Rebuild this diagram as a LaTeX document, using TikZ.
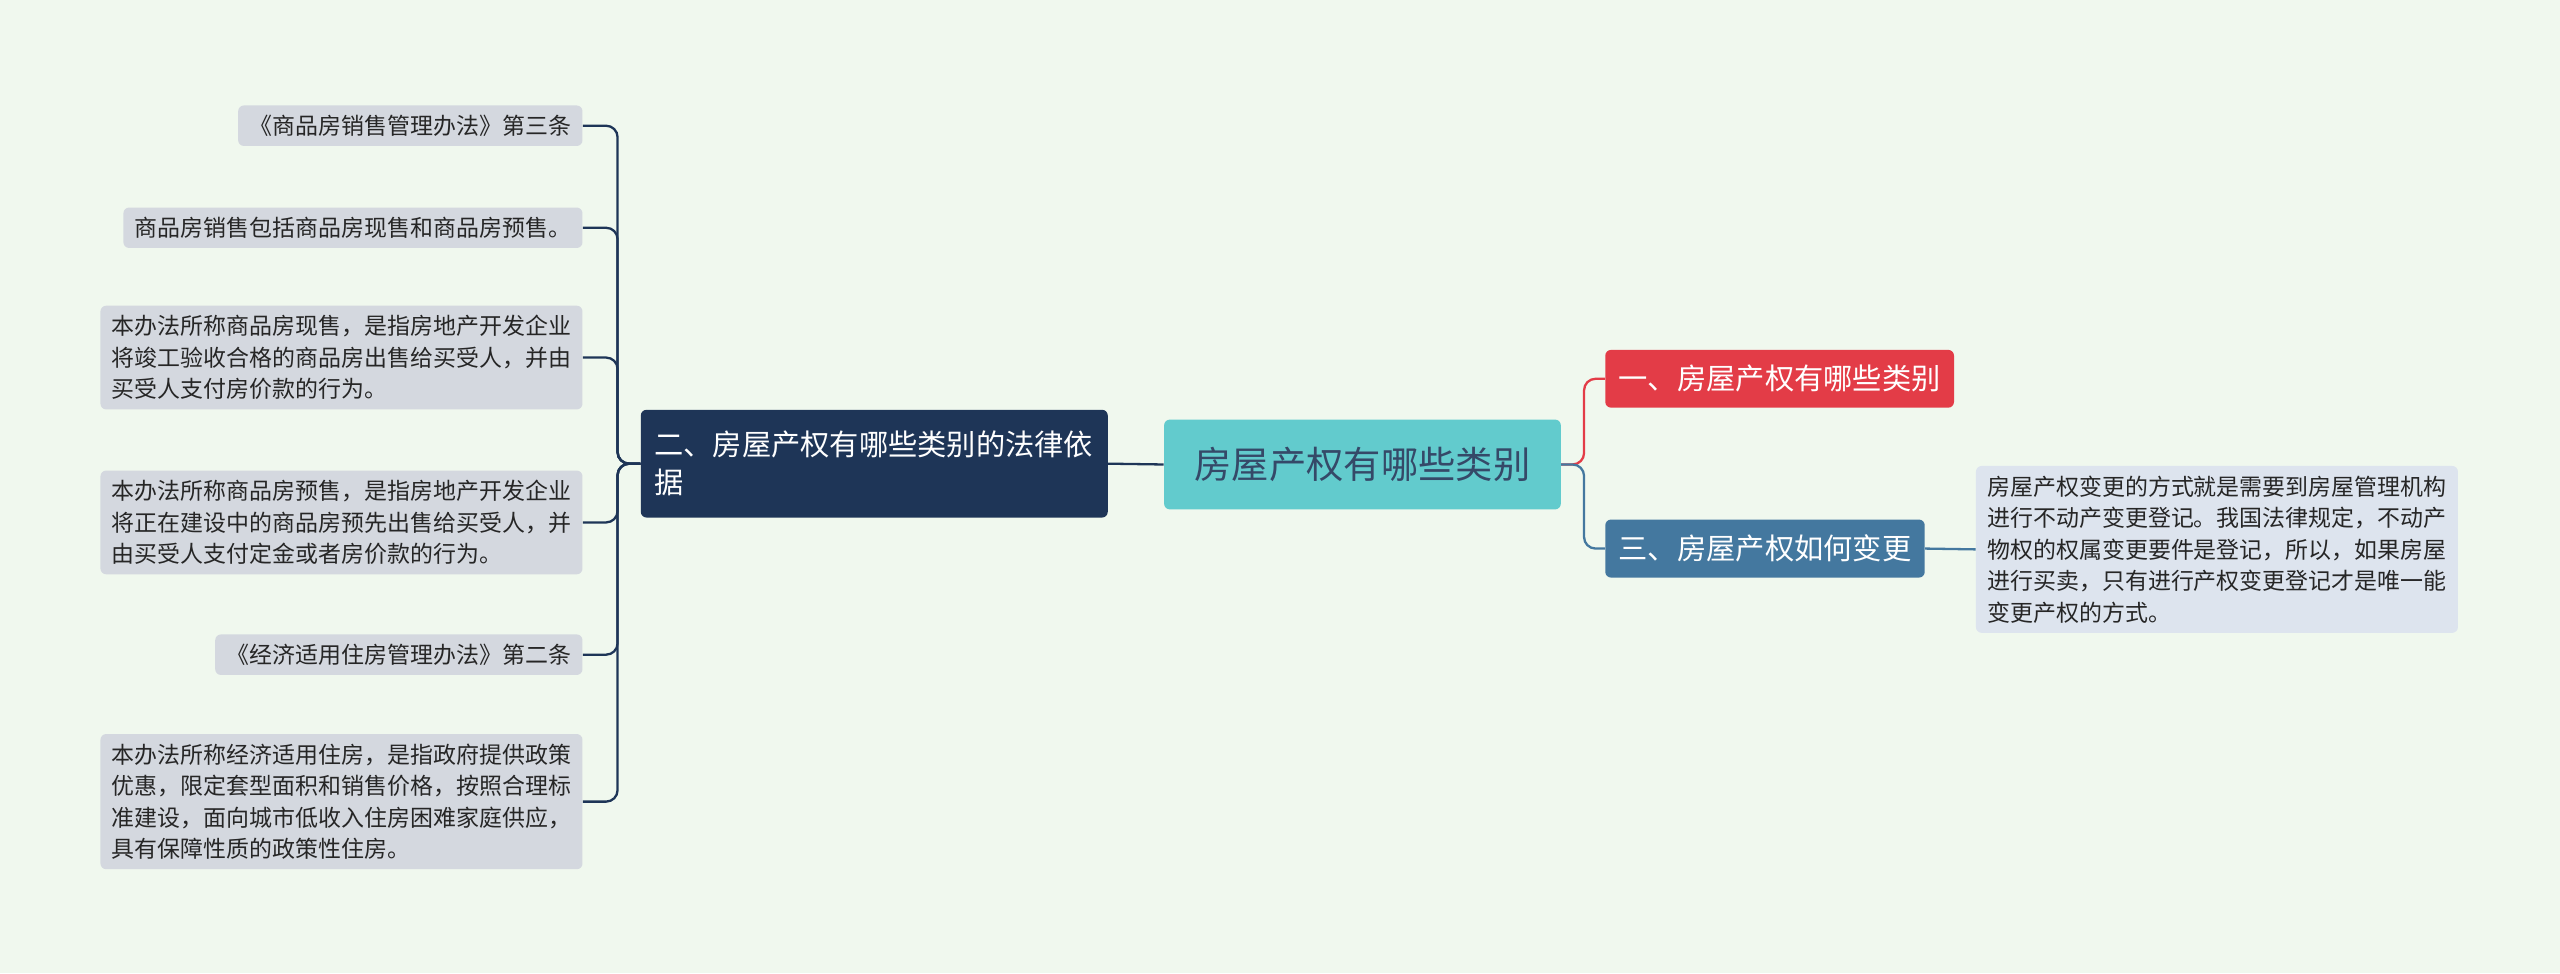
\documentclass[tikz,border=0pt]{standalone}
\usepackage{fontspec}
\setmainfont{Noto Sans CJK SC}
\definecolor{BgCol}{HTML}{F0F8EE}
\definecolor{RootCol}{HTML}{62CBCD}
\definecolor{NavyCol}{HTML}{1E3557}
\definecolor{RedCol}{HTML}{E33C47}
\definecolor{SteelCol}{HTML}{44789F}
\definecolor{LeafCol}{HTML}{D4D8DF}
\definecolor{PaleCol}{HTML}{DDE4EE}
\tikzset{
  leaf/.style={fill=LeafCol, rounded corners=3pt, font=\fontsize{12}{16.5}\selectfont, align=left, inner xsep=6pt, inner ysep=5pt, text=black!85},
  branch/.style={rounded corners=3pt, text=white, font=\fontsize{15.3}{20}\selectfont, align=left, inner xsep=7pt, inner ysep=8pt},
  link/.style={line width=1.2pt, rounded corners=6pt}
}
\begin{document}
\begin{tikzpicture}[x=0.03cm,y=-0.03cm]
\fill[BgCol] (0,0) rectangle (1568,596);
\useasboundingbox (0,0) rectangle (1568,596);

\node[fill=RootCol, rounded corners=3pt, minimum width=243*0.03cm, minimum height=55*0.03cm,
      font=\fontsize{19.5}{23}\selectfont, text=NavyCol!90] (root) at (834.5,284.5) {房屋产权有哪些类别};

\node[branch, fill=NavyCol, text width=286*0.03cm-14pt, minimum height=66*0.03cm] (law) at (535.5,284) {二、房屋产权有哪些类别的法律依\\据};
\node[branch, fill=RedCol, anchor=west] (kind) at (983,232) {一、房屋产权有哪些类别};
\node[branch, fill=SteelCol, anchor=west] (change) at (983,336) {三、房屋产权如何变更};

\node[leaf, fill=PaleCol, anchor=west] (changeA) at (1210,336.5) {房屋产权变更的方式就是需要到房屋管理机构\\进行不动产变更登记。我国法律规定，不动产\\物权的权属变更要件是登记，所以，如果房屋\\进行买卖，只有进行产权变更登记才是唯一能\\变更产权的方式。};

\node[leaf, anchor=east] (lawA) at (357,77) {《商品房销售管理办法》第三条};
\node[leaf, anchor=east] (lawB) at (357,139.5) {商品房销售包括商品房现售和商品房预售。};
\node[leaf, anchor=east] (lawC) at (357,219) {本办法所称商品房现售，是指房地产开发企业\\将竣工验收合格的商品房出售给买受人，并由\\买受人支付房价款的行为。};
\node[leaf, anchor=east] (lawD) at (357,320) {本办法所称商品房预售，是指房地产开发企业\\将正在建设中的商品房预先出售给买受人，并\\由买受人支付定金或者房价款的行为。};
\node[leaf, anchor=east] (lawE) at (357,401) {《经济适用住房管理办法》第二条};
\node[leaf, anchor=east] (lawF) at (357,491) {本办法所称经济适用住房，是指政府提供政策\\优惠，限定套型面积和销售价格，按照合理标\\准建设，面向城市低收入住房困难家庭供应，\\具有保障性质的政策性住房。};

% connectors
\draw[link, NavyCol] (root.west) -- (law.east);
\foreach \n in {lawA,lawB,lawC,lawD,lawE,lawF}
  \draw[link, NavyCol] (law.west) -- ++(-14,0) |- (\n.east);
\draw[link, RedCol] (root.east) -- ++(14,0) |- (kind.west);
\draw[link, SteelCol] (root.east) -- ++(14,0) |- (change.west);
\draw[link, SteelCol] (change.east) -- (changeA.west);
\end{tikzpicture}
\end{document}
